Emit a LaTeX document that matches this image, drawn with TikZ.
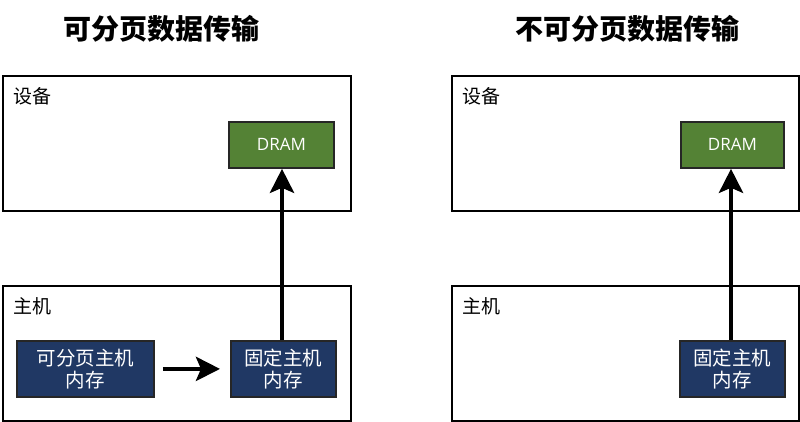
\documentclass[tikz,border=0pt]{standalone}
\usepackage{fontspec}
\setmainfont{Noto Sans CJK SC}
\newfontfamily\latinfont{Open Sans}
\usetikzlibrary{arrows.meta,calc}
\definecolor{dramgreen}{HTML}{548235}
\definecolor{memblue}{HTML}{203864}
\tikzset{
  panel/.style={draw=black, line width=2pt, fill=white},
  dram/.style={draw=black!85, line width=1.8pt, fill=dramgreen, text=white, font=\latinfont\fontsize{17}{19}\selectfont, inner sep=0pt},
  mem/.style={draw=black!85, line width=1.8pt, fill=memblue, text=white, font=\fontsize{19.5}{22}\selectfont, align=center, inner sep=0pt},
  lbl/.style={anchor=west, font=\fontsize{19}{20}\selectfont, inner sep=0pt},
  ttl/.style={font=\bfseries\fontsize{28}{30}\selectfont, inner sep=0pt},
  bigarrow/.style={line width=4.5pt, -{Stealth[length=24pt,width=24pt,inset=5pt]}},
}
\begin{document}
\begin{tikzpicture}[x=1pt,y=-1pt]
\useasboundingbox (0,0) rectangle (800,422);
% titles
\node[ttl] (t1) at (161,29) {可分页数据传输};
\node[ttl] (t2) at (627,29) {不可分页数据传输};
% left panel
\node[panel, minimum width=348pt, minimum height=135pt, anchor=north west] (dev1) at (2,75) {};
\node[lbl] (dev1l) at (13,96) {设备};
\node[dram, minimum width=105pt, minimum height=46pt, anchor=north west] (dram1) at (228,121) {DRAM};
\node[panel, minimum width=348pt, minimum height=135pt, anchor=north west] (host1) at (2,285) {};
\node[lbl] (host1l) at (13,306) {主机};
\node[mem, minimum width=137pt, minimum height=56pt, anchor=north west] (page1) at (16,340) {可分页主机\\内存};
\node[mem, minimum width=105pt, minimum height=56pt, anchor=north west] (pin1) at (230,340) {固定主机\\内存};
\draw[bigarrow] ($(page1.east)+(8,0)$) coordinate (a1s) -- ($(pin1.west)+(-10,0)$) coordinate (a1e);
\draw[bigarrow] (pin1.north -| 282,0) -- (dram1.south -| 282,0);
% right panel
\node[panel, minimum width=347pt, minimum height=135pt, anchor=north west] (dev2) at (451,75) {};
\node[lbl] (dev2l) at (462,96) {设备};
\node[dram, minimum width=103pt, minimum height=46pt, anchor=north west] (dram2) at (680,121) {DRAM};
\node[panel, minimum width=347pt, minimum height=135pt, anchor=north west] (host2) at (451,285) {};
\node[lbl] (host2l) at (462,306) {主机};
\node[mem, minimum width=105pt, minimum height=56pt, anchor=north west] (pin2) at (679,340) {固定主机\\内存};
\draw[bigarrow] (pin2.north -| 731,0) -- (dram2.south -| 731,0);
\end{tikzpicture}
\end{document}
